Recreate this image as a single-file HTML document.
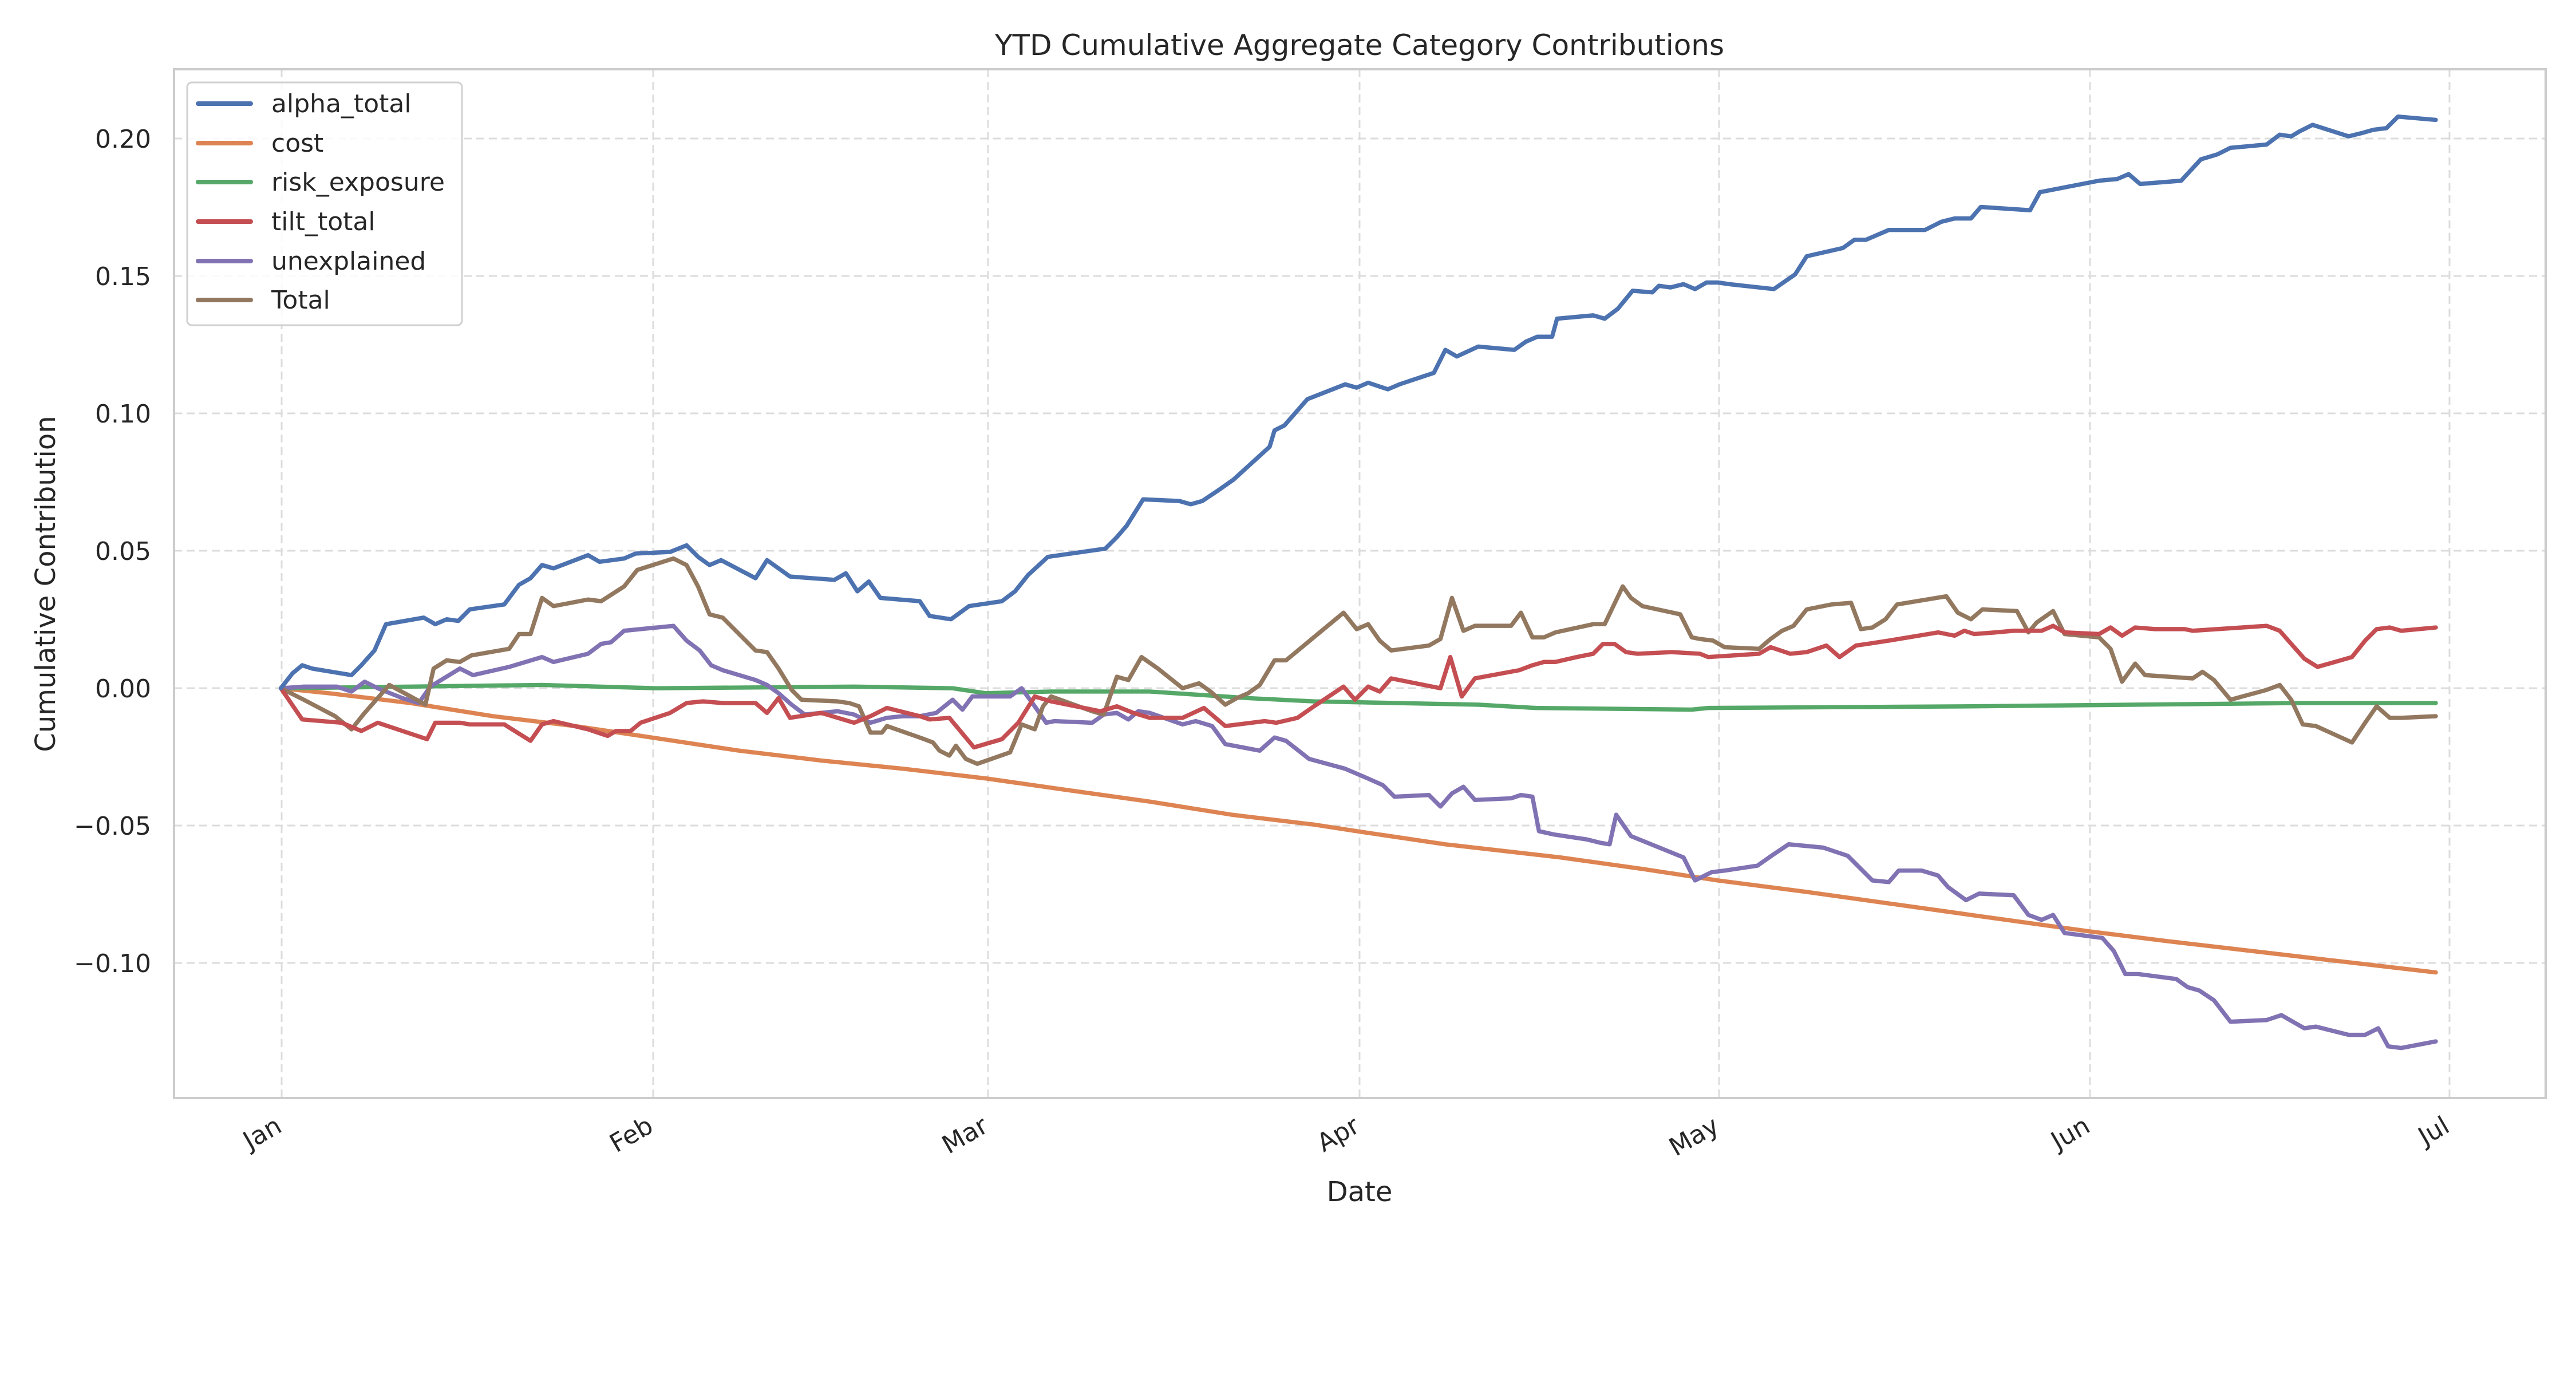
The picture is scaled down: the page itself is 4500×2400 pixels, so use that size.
<!DOCTYPE html>
<html><head><meta charset="utf-8"><style>
html,body{margin:0;padding:0;background:#fff;}
svg{display:block;}
text{font-family:"DejaVu Sans","Liberation Sans",sans-serif;fill:#262626;}
</style></head><body>
<svg width="4500" height="2400" viewBox="0 0 4500 2400" xmlns="http://www.w3.org/2000/svg">
<rect width="4500" height="2400" fill="#fff"/>
<g stroke="#dcdcdc" stroke-width="3" stroke-dasharray="14,8" fill="none">
<line x1="304" x2="4447" y1="242" y2="242"/>
<line x1="304" x2="4447" y1="482" y2="482"/>
<line x1="304" x2="4447" y1="722" y2="722"/>
<line x1="304" x2="4447" y1="962" y2="962"/>
<line x1="304" x2="4447" y1="1202" y2="1202"/>
<line x1="304" x2="4447" y1="1442" y2="1442"/>
<line x1="304" x2="4447" y1="1682" y2="1682"/>
<line y1="121" y2="1918" x1="492" x2="492"/>
<line y1="121" y2="1918" x1="1141" x2="1141"/>
<line y1="121" y2="1918" x1="1726" x2="1726"/>
<line y1="121" y2="1918" x1="2375" x2="2375"/>
<line y1="121" y2="1918" x1="3003" x2="3003"/>
<line y1="121" y2="1918" x1="3651" x2="3651"/>
<line y1="121" y2="1918" x1="4279" x2="4279"/>
</g>
<rect x="304" y="121" width="4143" height="1797" fill="none" stroke="#cccccc" stroke-width="4"/>
<text x="2375" y="96" font-size="50" text-anchor="middle">YTD Cumulative Aggregate Category Contributions</text>
<g font-size="44" text-anchor="end">
<text x="264" y="258">0.20</text>
<text x="264" y="498">0.15</text>
<text x="264" y="738">0.10</text>
<text x="264" y="978">0.05</text>
<text x="264" y="1218">0.00</text>
<text x="264" y="1458">−0.05</text>
<text x="264" y="1698">−0.10</text>
</g>
<text transform="translate(96,1020) rotate(-90)" font-size="48" text-anchor="middle">Cumulative Contribution</text>
<text x="2375" y="2098" font-size="48" text-anchor="middle">Date</text>
<g font-size="44" text-anchor="end">
<text transform="translate(495,1975) rotate(-30)">Jan</text>
<text transform="translate(1144,1975) rotate(-30)">Feb</text>
<text transform="translate(1729,1975) rotate(-30)">Mar</text>
<text transform="translate(2378,1975) rotate(-30)">Apr</text>
<text transform="translate(3006,1975) rotate(-30)">May</text>
<text transform="translate(3654,1975) rotate(-30)">Jun</text>
<text transform="translate(4282,1975) rotate(-30)">Jul</text>
</g>
<g transform="scale(2.8692)" fill="none" stroke-width="2.6" stroke-linejoin="round" stroke-linecap="round">
<polyline stroke="#dd8452" points="171,419 200,422 250,428 300,436 350,442 397,449 450,457 500,463 550,468 601,474 650,481 700,488 750,496 800,502 826,506 880,514 950,522 1000,529 1046,536 1100,543 1150,550 1200,557 1272,567 1320,573 1380,580 1440,587 1483,592"/>
<polyline stroke="#55a868" points="171,419 250,418 330,417 400,419 520,418 580,419 600,422 640,421 700,421 760,425 800,427 900,429 935,431 1030,432 1040,431 1200,430 1300,429 1400,428 1483,428"/>
<polyline stroke="#8172b3" points="171,419 185,418 205,418 214,421 222,415 230,419 245,425 255,428 262,418 280,407 288,411 310,406 330,400 337,403 358,398 366,392 372,391 380,384 400,382 410,381 418,390 426,396 433,405 440,408 460,414 467,417 474,422 482,429 490,435 500,434 510,433 520,435 530,440 540,437 550,436 560,436 570,434 580,426 586,432 592,424 615,424 622,419 630,430 637,440 642,439 665,440 672,435 680,434 687,438 693,433 700,434 720,441 728,439 738,442 746,453 767,457 776,449 783,451 797,462 819,468 833,474 842,478 849,485 870,484 877,491 884,483 891,479 898,487 920,486 926,484 933,485 937,506 946,508 966,511 974,513 980,514 984,496 993,509 1025,522 1032,536 1042,531 1050,530 1070,527 1080,520 1089,514 1110,516 1125,521 1132,528 1140,536 1150,537 1156,530 1170,530 1180,533 1186,540 1197,548 1205,544 1226,545 1235,557 1243,560 1250,557 1257,568 1280,571 1287,579 1294,593 1302,593 1325,596 1332,601 1339,603 1348,609 1358,622 1380,621 1389,618 1403,626 1410,625 1430,630 1440,630 1448,626 1454,637 1462,638 1483,634"/>
<polyline stroke="#937860" points="171,419 185,426 204,436 214,444 222,434 237,417 250,424 259,429 264,407 272,402 280,403 287,399 310,395 316,386 323,386 330,364 337,369 358,365 366,366 380,357 388,347 410,340 418,344 425,357 432,374 440,376 460,396 467,397 474,407 482,420 488,426 510,427 517,428 523,430 530,446 537,446 540,442 560,449 568,452 572,457 578,460 582,454 588,462 595,465 615,458 622,441 630,444 635,430 640,424 665,433 672,435 680,412 687,414 695,400 705,407 720,419 730,416 737,421 746,429 753,425 760,422 767,417 776,402 783,402 818,373 826,383 833,380 840,390 847,396 870,393 877,389 884,364 891,384 898,381 920,381 926,373 933,388 940,388 947,385 970,380 977,380 988,357 993,364 1000,369 1023,374 1030,388 1035,389 1043,390 1050,394 1071,395 1078,389 1085,384 1092,381 1100,371 1115,368 1127,367 1133,383 1140,382 1148,377 1155,368 1185,363 1192,373 1200,377 1207,371 1228,372 1235,385 1240,379 1250,372 1257,386 1278,388 1285,395 1292,415 1300,404 1306,411 1335,413 1341,409 1348,414 1358,426 1380,420 1388,417 1395,426 1402,441 1410,442 1432,452 1440,440 1447,430 1455,437 1462,437 1483,436"/>
<polyline stroke="#c44e52" points="171,419 184,438 208,440 220,445 230,440 260,450 265,440 280,440 286,441 307,441 323,451 330,441 337,439 358,444 370,448 375,445 384,445 390,440 408,434 418,428 428,427 440,428 460,428 467,434 474,425 481,437 500,434 510,437 520,440 530,436 540,431 560,436 566,438 578,437 593,455 610,450 620,440 630,424 640,427 670,433 680,430 690,434 700,437 720,437 733,431 746,442 770,439 777,440 790,437 800,430 818,418 825,426 833,418 840,421 847,413 877,419 883,400 890,424 898,413 925,408 933,405 940,403 947,403 960,400 970,398 976,392 983,392 990,397 997,398 1018,397 1035,398 1040,400 1071,398 1078,394 1090,398 1100,397 1112,393 1120,400 1130,393 1137,392 1150,390 1180,385 1190,387 1196,384 1202,386 1215,385 1226,384 1236,384 1243,384 1250,381 1257,385 1278,386 1285,382 1292,387 1300,382 1312,383 1330,383 1335,384 1380,381 1388,384 1395,392 1403,401 1411,406 1432,400 1440,390 1447,383 1455,382 1462,384 1483,382"/>
<polyline stroke="#4c72b0" points="171,419 178,410 184,405 190,407 214,411 220,405 228,396 235,380 258,376 265,380 272,377 279,378 286,371 307,368 316,356 323,352 330,344 337,346 358,338 365,342 380,340 387,337 408,336 418,332 425,339 432,344 439,341 460,352 467,341 474,346 481,351 508,353 515,349 522,360 529,354 536,364 560,366 566,375 579,377 590,369 610,366 618,360 626,350 638,339 666,335 673,334 680,327 686,320 696,304 718,305 725,307 732,305 741,299 751,292 773,272 776,262 782,259 796,243 819,234 826,236 833,233 845,237 852,234 873,227 880,213 887,217 900,211 922,213 929,208 936,205 945,205 948,194 970,192 977,194 985,188 994,177 1006,178 1010,174 1017,175 1025,173 1032,176 1039,172 1046,172 1053,173 1080,176 1093,167 1100,156 1122,151 1129,146 1136,146 1150,140 1172,140 1182,135 1190,133 1200,133 1206,126 1236,128 1242,117 1278,110 1289,109 1296,106 1303,112 1328,110 1340,97 1350,94 1358,90 1380,88 1388,82 1395,83 1400,80 1408,76 1430,83 1438,81 1445,79 1453,78 1460,71 1483,73"/>
</g>
<rect x="327" y="144" width="480" height="424" rx="8" fill="#fff" fill-opacity="0.85" stroke="#d0d0d0" stroke-width="3"/>
<g stroke-width="8" stroke-linecap="round">
<line x1="346" x2="438" y1="181" y2="181" stroke="#4c72b0"/>
<line x1="346" x2="438" y1="250" y2="250" stroke="#dd8452"/>
<line x1="346" x2="438" y1="318" y2="318" stroke="#55a868"/>
<line x1="346" x2="438" y1="387" y2="387" stroke="#c44e52"/>
<line x1="346" x2="438" y1="456" y2="456" stroke="#8172b3"/>
<line x1="346" x2="438" y1="524" y2="524" stroke="#937860"/>
</g>
<g font-size="44">
<text x="474" y="196">alpha_total</text>
<text x="474" y="265">cost</text>
<text x="474" y="333">risk_exposure</text>
<text x="474" y="402">tilt_total</text>
<text x="474" y="471">unexplained</text>
<text x="474" y="539">Total</text>
</g>
</svg>
</body></html>
